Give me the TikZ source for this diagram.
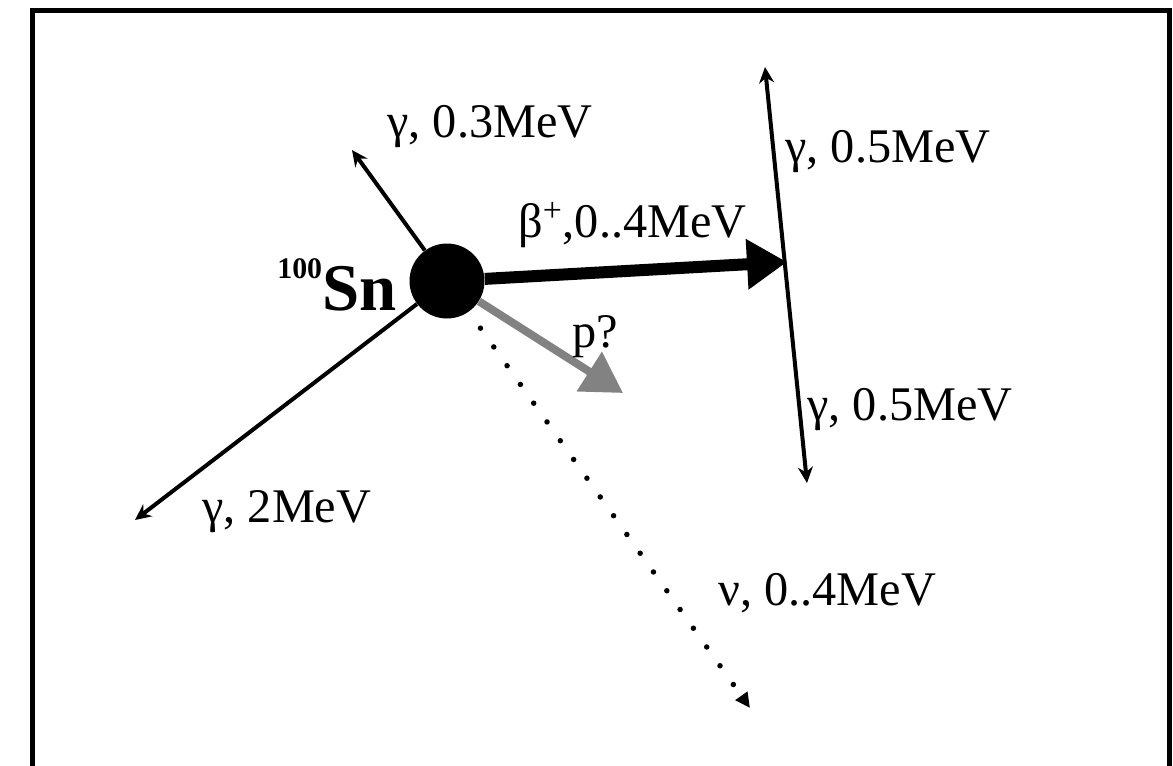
\documentclass[tikz,border=0pt]{standalone}
\usepackage{fontspec}
\setmainfont{Liberation Serif}
\usepackage{xcolor}
\usetikzlibrary{arrows.meta,positioning}
\definecolor{Ink}{HTML}{000000}
\definecolor{Proton}{RGB}{130,130,130}
\newcommand{\energy}[1]{#1MeV}

\begin{document}
\begin{tikzpicture}[
  x=0.02cm,y=-0.02cm,
  >={Stealth[length=0.32cm,width=0.3cm]},
  lbl/.style={inner sep=0pt,anchor=base west,text=Ink,font=\fontsize{27.5}{30}\selectfont},
  nucleus/.style={circle,fill=Ink,minimum size=1.5cm,inner sep=0pt},
  photon/.style={draw=Ink,line width=0.08cm,->},
  positron/.style={draw=Ink,line width=0.24cm,-{Triangle[length=0.8cm,width=0.96cm]}},
  proton/.style={draw=Proton,line width=0.16cm,-{Triangle[length=0.8cm,width=0.9cm]}},
  neutrino/.style={draw=Ink,line width=0.11cm,line cap=round,dash pattern=on 0pt off 0.46cm,-{Triangle[length=0.3cm,width=0.28cm]}}
]
\clip (0,0) rectangle (1173,765);
\draw[Ink,line width=0.1cm] (32,800) |- (1169,10) -- (1169,800);

\node[nucleus] (sn) at (447,281) {};
\node[lbl,font=\bfseries\fontsize{38}{40}\selectfont] (snlab) at (277,310) {\raisebox{18pt}{\fontsize{17}{17}\selectfont 100}Sn};

\coordinate (g3tip) at (352,150);
\coordinate (g2tip) at (135,520);
\coordinate (btip) at (787,262);
\coordinate (vtop) at (765,67);
\coordinate (vbot) at (807,483);
\coordinate (ptip) at (623,393);
\coordinate (nutip) at (750,708);

\draw[photon] (sn) -- (g3tip);
\draw[photon] (sn) -- (g2tip);
\draw[positron] (sn) -- (btip);
\draw[photon,<->] (vtop) -- (vbot);
\draw[proton] (sn) -- (ptip);
\draw[neutrino,shorten <=0.4cm] (sn) -- (nutip);

\node[lbl] (g3lab) at (387,137) {γ, \energy{0.3}};
\node[lbl] (blab) at (518,237) {β\textsuperscript{+},\energy{0..4}};
\node[lbl] (plab) at (572,347) {p?};
\node[lbl] (g5alab) at (785,162) {γ, \energy{0.5}};
\node[lbl] (g5blab) at (807,420) {γ, \energy{0.5}};
\node[lbl] (g2lab) at (202,522) {γ, \energy{2}};
\node[lbl] (nulab) at (718,605) {ν, \energy{0..4}};
\end{tikzpicture}
\end{document}
